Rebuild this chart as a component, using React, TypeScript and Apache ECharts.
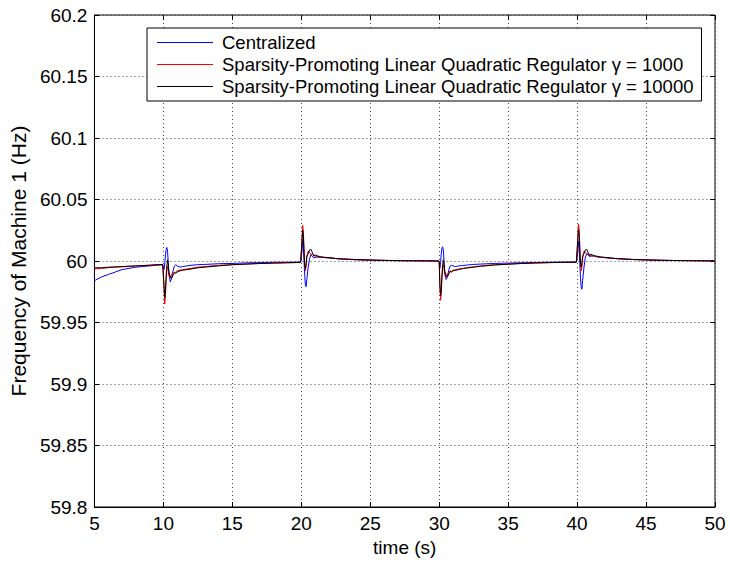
import React, { useEffect, useRef } from "react";
import * as echarts from "echarts";

const X_TICKS = [5, 50, 5]; // min, max, interval
const Y_TICKS = [59.8, 60.2, 0.05];

const SERIES_NAMES = [
  "Centralized",
  "Sparsity-Promoting Linear Quadratic Regulator \u03b3 = 1000",
  "Sparsity-Promoting Linear Quadratic Regulator \u03b3 = 10000",
];

const TIME = [
  5, 5.5, 6, 6.5, 7, 7.5, 8, 8.5, 9, 9.5, 9.95,
  10, 10.05, 10.1, 10.15, 10.2, 10.25, 10.3, 10.35, 10.4, 10.5, 10.6, 10.7, 10.8, 10.9, 11, 11.2, 11.4, 11.7, 12, 12.5, 13, 14, 15, 16, 17, 18, 19, 19.95,
  20, 20.05, 20.1, 20.15, 20.2, 20.25, 20.3, 20.35, 20.4, 20.5, 20.6, 20.7, 20.8, 20.9, 21, 21.2, 21.4, 21.7, 22, 22.5, 23, 24, 25, 26, 27, 28, 29, 29.95,
  30, 30.05, 30.1, 30.15, 30.2, 30.25, 30.3, 30.35, 30.4, 30.5, 30.6, 30.7, 30.8, 30.9, 31, 31.2, 31.4, 31.7, 32, 32.5, 33, 34, 35, 36, 37, 38, 39, 39.95,
  40, 40.05, 40.1, 40.15, 40.2, 40.25, 40.3, 40.35, 40.4, 40.5, 40.6, 40.7, 40.8, 40.9, 41, 41.2, 41.4, 41.7, 42, 42.5, 43, 44, 45, 46, 47, 48, 49, 49.95,
  50,
];

const CENTRALIZED = [
  59.984, 59.987, 59.989, 59.991, 59.993, 59.994, 59.995, 59.9955, 59.996, 59.9965, 59.997,
  59.997, 59.993, 59.998, 60.005, 60.0095, 60.011, 60.008, 59.999, 59.99, 59.983, 59.986, 59.992, 59.996, 59.997, 59.996, 59.995, 59.9955, 59.996, 59.9965, 59.997, 59.9972, 59.9978, 59.998, 59.9985, 59.9987, 59.999, 59.999, 59.9992,
  59.9992, 60.008, 60.017, 60.012, 60.0, 59.988, 59.98, 59.979, 59.985, 59.995, 60.002, 60.005, 60.004, 60.0025, 60.003, 60.0032, 60.003, 60.0028, 60.0025, 60.002, 60.0016, 60.001, 60.0007, 60.0005, 60.0003, 60.0002, 60.0001, 60.0,
  59.9995, 59.994, 59.999, 60.006, 60.0105, 60.0115, 60.009, 60.0, 59.991, 59.985, 59.987, 59.993, 59.996, 59.9965, 59.996, 59.9955, 59.996, 59.9963, 59.9967, 59.9972, 59.9975, 59.998, 59.9983, 59.9986, 59.9988, 59.999, 59.9991, 59.9992,
  59.9992, 60.007, 60.016, 60.011, 59.998, 59.986, 59.978, 59.977, 59.984, 59.995, 60.003, 60.006, 60.005, 60.0035, 60.004, 60.004, 60.0035, 60.003, 60.0028, 60.0023, 60.0018, 60.0012, 60.0009, 60.0006, 60.0004, 60.0003, 60.0002, 60.0001,
  60.0,
];

const SPLQR_1000 = [
  59.9935, 59.994, 59.9945, 59.995, 59.9953, 59.9956, 59.996, 59.9962, 59.9965, 59.9968, 59.997,
  59.997, 59.975, 59.965, 59.972, 59.985, 59.992, 59.996, 59.993, 59.988, 59.986, 59.989, 59.991, 59.9905, 59.991, 59.992, 59.9925, 59.993, 59.9935, 59.994, 59.995, 59.9955, 59.9965, 59.997, 59.9975, 59.998, 59.9983, 59.9986, 59.9988,
  59.9988, 60.018, 60.029, 60.024, 60.01, 59.998, 59.992, 59.996, 60.003, 60.008, 60.007, 60.005, 60.006, 60.0045, 60.004, 60.0035, 60.003, 60.0028, 60.0025, 60.002, 60.0015, 60.001, 60.0007, 60.0005, 60.0003, 60.0002, 60.0001, 60.0,
  59.9995, 59.978, 59.968, 59.973, 59.986, 59.993, 59.997, 59.994, 59.989, 59.987, 59.9895, 59.991, 59.992, 59.9915, 59.9925, 59.993, 59.9935, 59.994, 59.9945, 59.9953, 59.996, 59.997, 59.9975, 59.998, 59.9984, 59.9987, 59.9989, 59.999,
  59.999, 60.02, 60.03, 60.026, 60.012, 59.999, 59.992, 59.995, 60.002, 60.008, 60.007, 60.0055, 60.006, 60.005, 60.0045, 60.004, 60.0035, 60.003, 60.0027, 60.0022, 60.0018, 60.0012, 60.0009, 60.0006, 60.0004, 60.0003, 60.0002, 60.0001,
  60.0001,
];

const SPLQR_10000 = [
  59.9945, 59.9945, 59.995, 59.9952, 59.9955, 59.9958, 59.996, 59.9963, 59.9966, 59.997, 59.9972,
  59.9972, 59.98, 59.97, 59.976, 59.988, 59.996, 60.001, 59.998, 59.991, 59.987, 59.986, 59.9885, 59.9905, 59.99, 59.991, 59.992, 59.9925, 59.993, 59.9935, 59.9945, 59.995, 59.996, 59.997, 59.9975, 59.998, 59.9983, 59.9986, 59.9988,
  59.9988, 60.015, 60.025, 60.02, 60.006, 59.996, 59.994, 59.998, 60.004, 60.006, 60.009, 60.0095, 60.007, 60.004, 60.005, 60.004, 60.0035, 60.003, 60.0028, 60.002, 60.0017, 60.0012, 60.0008, 60.0005, 60.0003, 60.0002, 60.0001, 60.0,
  59.9995, 59.982, 59.972, 59.977, 59.989, 59.997, 60.001, 59.998, 59.992, 59.988, 59.9875, 59.9895, 59.9915, 59.991, 59.992, 59.9925, 59.993, 59.9938, 59.9943, 59.995, 59.9957, 59.9967, 59.9974, 59.998, 59.9984, 59.9987, 59.9989, 59.999,
  59.999, 60.016, 60.026, 60.021, 60.007, 59.997, 59.995, 59.999, 60.004, 60.006, 60.009, 60.0095, 60.007, 60.0045, 60.0055, 60.0045, 60.004, 60.0033, 60.003, 60.0023, 60.0019, 60.0013, 60.0009, 60.0006, 60.0004, 60.0003, 60.0002, 60.0001,
  60.0001,
];

const COLORS = ["#0000ff", "#ff0000", "#000000"];
const FONT = "'Liberation Sans', Arial, Helvetica, sans-serif";

export default function App() {
  const ref = useRef<HTMLDivElement>(null);

  useEffect(() => {
    if (!ref.current) return;
    const chart = echarts.init(ref.current, null, { renderer: "svg" });
    const values = [CENTRALIZED, SPLQR_1000, SPLQR_10000];
    const gridLine = { show: true, lineStyle: { color: "#444", width: 1, type: [1, 3] as any } };
    const tickIn = { show: true, inside: true, length: 5, lineStyle: { color: "#000" } };
    const option: any = {
      animation: false,
      backgroundColor: "#fff",
      grid: { left: 91, right: 15, top: 15, bottom: 56, show: true, borderColor: "#000", borderWidth: 1, backgroundColor: "transparent" },
      legend: {
        data: SERIES_NAMES.map((name, i) => ({ name, itemStyle: { color: COLORS[i] } })),
        orient: "vertical",
        left: 147,
        top: 28,
        icon: "rect",
        itemWidth: 56,
        itemHeight: 1,
        itemGap: 3,
        padding: [5, 8, 5, 10],
        backgroundColor: "#fff",
        borderColor: "#000",
        borderWidth: 1,
        textStyle: { fontFamily: FONT, fontSize: 18.5, color: "#000", lineHeight: 18, padding: [0, 0, 0, 4] },
      },
      xAxis: [
        {
          type: "value", min: X_TICKS[0], max: X_TICKS[1], interval: X_TICKS[2],
          name: "time (s)", nameLocation: "middle", nameGap: 29,
          nameTextStyle: { fontFamily: FONT, fontSize: 19, color: "#000" },
          axisLine: { show: true, lineStyle: { color: "#000" } },
          axisTick: tickIn,
          axisLabel: { fontFamily: FONT, fontSize: 19, color: "#000", margin: 7 },
          splitLine: gridLine,
        },
        {
          type: "value", position: "top", min: X_TICKS[0], max: X_TICKS[1], interval: X_TICKS[2],
          axisLine: { show: false }, axisTick: tickIn, axisLabel: { show: false }, splitLine: { show: false },
        },
      ],
      yAxis: [
        {
          type: "value", min: Y_TICKS[0], max: Y_TICKS[1], interval: Y_TICKS[2],
          name: "Frequency of Machine 1 (Hz)", nameLocation: "middle", nameGap: 63,
          nameTextStyle: { fontFamily: FONT, fontSize: 21, color: "#000" },
          axisLine: { show: true, lineStyle: { color: "#000" } },
          axisTick: tickIn,
          axisLabel: { fontFamily: FONT, fontSize: 19, color: "#000", margin: 7, formatter: (v: number) => String(parseFloat(v.toFixed(2))) },
          splitLine: gridLine,
        },
        {
          type: "value", position: "right", min: Y_TICKS[0], max: Y_TICKS[1], interval: Y_TICKS[2],
          axisLine: { show: false }, axisTick: tickIn, axisLabel: { show: false }, splitLine: { show: false },
        },
      ],
      series: SERIES_NAMES.map((name, i) => ({
        name,
        type: "line",
        xAxisIndex: 0,
        yAxisIndex: 0,
        symbol: "none",
        showSymbol: false,
        color: COLORS[i],
        itemStyle: { color: COLORS[i] },
        lineStyle: { color: COLORS[i], width: 1 },
        data: TIME.map((t, j) => [t, values[i][j]]),
        z: 2 + i,
      })),
    };
    chart.setOption(option);
    return () => chart.dispose();
  }, []);

  return (
    <div
      ref={ref}
      style={{ position: "fixed", left: 0, top: 0, width: 730, height: 563, background: "#fff" }}
    />
  );
}
